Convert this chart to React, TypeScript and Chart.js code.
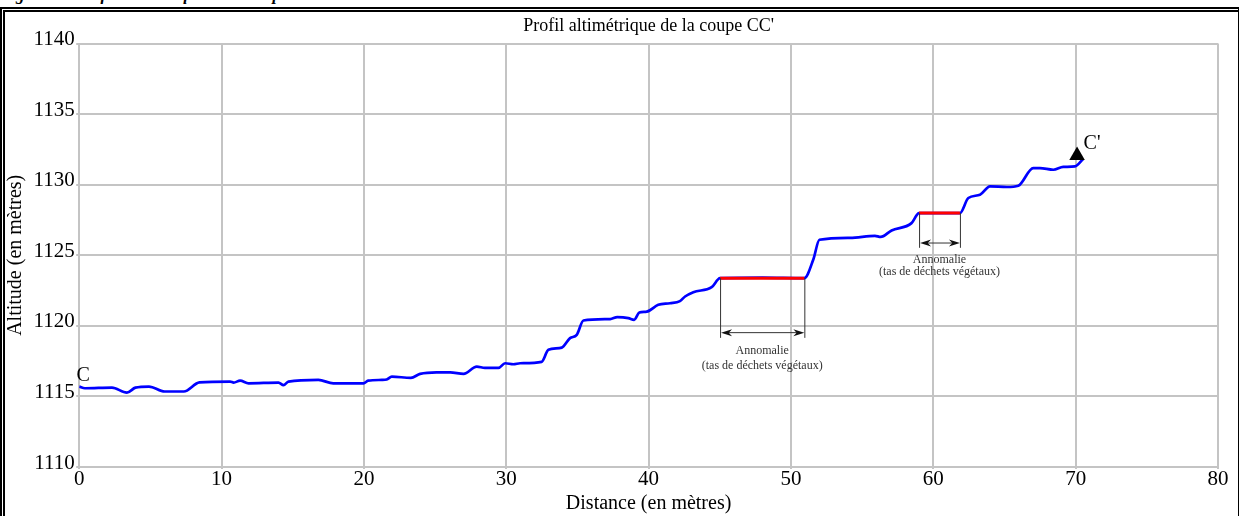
import React, { useEffect, useRef } from "react";
import { Chart, registerables } from "chart.js";

Chart.register(...registerables);

// Profile data (distance in m, altitude in m)
const DISTANCE = [
  0, 0.4, 2.3, 3.35, 3.95, 4.9, 6.0, 7.35, 8.45, 10.6, 10.85, 11.3, 11.9, 14.0,
  14.35, 14.7, 16.8, 17.85, 19.97, 20.3, 21.26, 21.6, 21.96, 23.3, 23.95, 25.1,
  26.06, 27.0, 27.93, 28.5, 29.45, 29.92, 30.5, 30.97, 32.49, 32.96, 33.9, 34.48,
  34.95, 35.42, 37.3, 37.8, 38.58, 38.98, 39.35, 39.87, 40.68, 41.5, 42.2, 42.56,
  43.14, 44.43, 45.02, 48.0, 50.94, 51.57, 52.0, 54.15, 55.9, 56.3, 57.07, 58.47,
  59.0, 61.87, 62.46, 63.28, 63.98, 65.16, 65.97, 67.02, 67.49, 68.43, 69.13,
  69.95, 70.53,
];
const ALTITUDE = [
  1115.7, 1115.58, 1115.63, 1115.27, 1115.62, 1115.7, 1115.35, 1115.35, 1116.0,
  1116.05, 1115.98, 1116.12, 1115.93, 1115.98, 1115.8, 1116.05, 1116.17, 1115.93,
  1115.93, 1116.12, 1116.17, 1116.2, 1116.4, 1116.32, 1116.6, 1116.71, 1116.71,
  1116.6, 1117.11, 1117.02, 1117.02, 1117.35, 1117.28, 1117.35, 1117.45, 1118.3,
  1118.46, 1119.13, 1119.36, 1120.38, 1120.48, 1120.62, 1120.55, 1120.43, 1120.94,
  1121.01, 1121.49, 1121.6, 1121.75, 1122.08, 1122.39, 1122.74, 1123.38, 1123.42,
  1123.38, 1124.7, 1126.1, 1126.24, 1126.38, 1126.3, 1126.76, 1127.28, 1127.99,
  1127.99, 1129.06, 1129.29, 1129.88, 1129.84, 1129.93, 1131.18, 1131.18, 1131.06,
  1131.26, 1131.3, 1131.82,
];

// Anomalies (red segments)
const ANOMALY1_X = [45.02, 50.94];
const ANOMALY1_Y = [1123.38, 1123.38];
const ANOMALY2_X = [59.0, 61.87];
const ANOMALY2_Y = [1127.99, 1127.99];

// End marker C'
const END_X = [70.1];
const END_Y = [1132.08];

const X_MIN = 0;
const X_MAX = 80;
const X_STEP = 10;
const Y_MIN = 1110;
const Y_MAX = 1140;
const Y_STEP = 5;

const TITLE = "Profil altimétrique de la coupe CC'";
const X_TITLE = "Distance (en mètres)";
const Y_TITLE = "Altitude (en mètres)";
const ANOMALY_LINE1 = "Annomalie";
const ANOMALY_LINE2 = "(tas de déchets végétaux)";
const CAPTION = "Figure 6 : Profil altimétrique de la coupe CC'";

// Annotation geometry (in data units)
const BRACKETS = [
  { x0: 45.02, x1: 50.94, top: 1123.38, bottom: 1119.15, arrow: 1119.52, t1: 1118.2, t2: 1117.2 },
  { x0: 59.0, x1: 61.87, top: 1127.99, bottom: 1125.53, arrow: 1125.87, t1: 1124.68, t2: 1123.83 },
];
const POINT_LABELS = [
  { text: "C", x: 0.28, y: 1116.45 },
  { text: "C'", x: 71.15, y: 1132.9 },
];

const SERIF = '"Liberation Serif", "DejaVu Serif", serif';

const annotationPlugin = {
  id: "profileAnnotations",
  afterDatasetsDraw(chart: any) {
    const { ctx } = chart;
    const xs = chart.scales.x;
    const ys = chart.scales.y;
    ctx.save();
    for (const b of BRACKETS) {
      const px0 = xs.getPixelForValue(b.x0);
      const px1 = xs.getPixelForValue(b.x1);
      const pyTop = ys.getPixelForValue(b.top);
      const pyBot = ys.getPixelForValue(b.bottom);
      const pyArr = ys.getPixelForValue(b.arrow);
      ctx.strokeStyle = "#333";
      ctx.lineWidth = 1;
      ctx.beginPath();
      ctx.moveTo(px0 + 0.5, pyTop);
      ctx.lineTo(px0 + 0.5, pyBot);
      ctx.moveTo(px1 + 0.5, pyTop);
      ctx.lineTo(px1 + 0.5, pyBot);
      ctx.moveTo(px0 + 4, pyArr);
      ctx.lineTo(px1 - 4, pyArr);
      ctx.stroke();
      ctx.fillStyle = "#111";
      const hl = 11;
      const hw = 3.5;
      ctx.beginPath();
      ctx.moveTo(px0 + 1, pyArr);
      ctx.lineTo(px0 + 1 + hl, pyArr - hw);
      ctx.lineTo(px0 + 1 + hl * 0.7, pyArr);
      ctx.lineTo(px0 + 1 + hl, pyArr + hw);
      ctx.closePath();
      ctx.fill();
      ctx.beginPath();
      ctx.moveTo(px1, pyArr);
      ctx.lineTo(px1 - hl, pyArr - hw);
      ctx.lineTo(px1 - hl * 0.7, pyArr);
      ctx.lineTo(px1 - hl, pyArr + hw);
      ctx.closePath();
      ctx.fill();
      ctx.fillStyle = "#333";
      ctx.font = `12px ${SERIF}`;
      ctx.textAlign = "center";
      ctx.textBaseline = "middle";
      const cx = (px0 + px1) / 2;
      ctx.fillText(ANOMALY_LINE1, cx, ys.getPixelForValue(b.t1));
      ctx.fillText(ANOMALY_LINE2, cx, ys.getPixelForValue(b.t2));
    }
    ctx.fillStyle = "#000";
    ctx.font = `20px ${SERIF}`;
    ctx.textAlign = "center";
    ctx.textBaseline = "middle";
    for (const l of POINT_LABELS) {
      ctx.fillText(l.text, xs.getPixelForValue(l.x), ys.getPixelForValue(l.y));
    }
    ctx.restore();
  },
};

export default function App() {
  const canvasRef = useRef<HTMLCanvasElement | null>(null);

  useEffect(() => {
    document.body.style.margin = "0";
    const canvas = canvasRef.current;
    if (!canvas) return;
    const chart = new Chart(canvas, {
      type: "line",
      data: {
        datasets: [
          {
            label: "C'",
            data: END_X.map((x, i) => ({ x, y: END_Y[i] })),
            showLine: false,
            pointStyle: "triangle",
            pointRadius: 9,
            pointBackgroundColor: "#000",
            pointBorderColor: "#000",
            pointBorderWidth: 0,
            order: -1,
          },
          {
            label: "Anomalie 1",
            data: ANOMALY1_X.map((x, i) => ({ x, y: ANOMALY1_Y[i] })),
            borderColor: "#ff0000",
            borderWidth: 3,
            pointRadius: 0,
            order: 0,
          },
          {
            label: "Anomalie 2",
            data: ANOMALY2_X.map((x, i) => ({ x, y: ANOMALY2_Y[i] })),
            borderColor: "#ff0000",
            borderWidth: 3,
            pointRadius: 0,
            order: 0,
          },
          {
            label: "Profil",
            data: DISTANCE.map((x, i) => ({ x, y: ALTITUDE[i] })),
            borderColor: "#0000ff",
            borderWidth: 2.7,
            pointRadius: 0,
            cubicInterpolationMode: "monotone",
            order: 1,
          },
        ],
      },
      options: {
        animation: false,
        responsive: false,
        maintainAspectRatio: false,
        layout: { padding: { left: 0, right: 23, top: 10, bottom: 2 } },
        plugins: {
          legend: { display: false },
          tooltip: { enabled: false },
          title: {
            display: true,
            text: TITLE,
            fullSize: false,
            color: "#000",
            font: { family: SERIF, size: 18, weight: "normal", lineHeight: 1.2 },
            padding: { top: 5, bottom: 7 },
          },
        },
        scales: {
          x: {
            type: "linear",
            min: X_MIN,
            max: X_MAX,
            ticks: {
              stepSize: X_STEP,
              color: "#000",
              padding: 0,
              font: { family: SERIF, size: 21, lineHeight: 1 },
              maxRotation: 0,
              callback: (v: any) => String(v),
            },
            grid: { color: "#c4c4c4", lineWidth: 2, tickLength: 2 },
            border: { color: "#c4c4c4", width: 2 },
            title: {
              display: true,
              text: X_TITLE,
              color: "#000",
              font: { family: SERIF, size: 20, lineHeight: 1 },
              padding: { top: 4, bottom: 0 },
            },
          },
          y: {
            type: "linear",
            min: Y_MIN,
            max: Y_MAX,
            ticks: {
              stepSize: Y_STEP,
              color: "#000",
              padding: 1.5,
              labelOffset: -4,
              font: { family: SERIF, size: 21, lineHeight: 1.2 },
              callback: (v: any) => String(v),
            },
            grid: { color: "#c4c4c4", lineWidth: 2, tickLength: 3 },
            border: { color: "#c4c4c4", width: 2 },
            title: {
              display: true,
              text: Y_TITLE,
              color: "#000",
              font: { family: SERIF, size: 20, lineHeight: 1.2 },
              padding: { top: 4, bottom: 4 },
            },
          },
        },
      },
      plugins: [annotationPlugin],
    });
    return () => chart.destroy();
  }, []);

  return (
    <div
      style={{
        position: "fixed",
        left: 0,
        top: 0,
        width: 1241,
        height: 516,
        overflow: "hidden",
        background: "#fff",
      }}
    >
      <div
        style={{
          position: "absolute",
          left: 0,
          top: -14,
          whiteSpace: "nowrap",
          fontFamily: SERIF,
          fontStyle: "italic",
          fontWeight: "bold",
          fontSize: 17,
          lineHeight: "17px",
          color: "#000",
        }}
      >
        {CAPTION}
      </div>
      <div
        style={{
          position: "absolute",
          left: 0,
          top: 7,
          width: 1239,
          height: 600,
          boxSizing: "border-box",
          borderTop: "5px double #000",
          borderLeft: "5px double #000",
          borderRight: "1px solid #000",
        }}
      />
      <canvas
        ref={canvasRef}
        width={1241}
        height={516}
        style={{ position: "absolute", left: 0, top: 0, width: 1241, height: 516 }}
      />
    </div>
  );
}
